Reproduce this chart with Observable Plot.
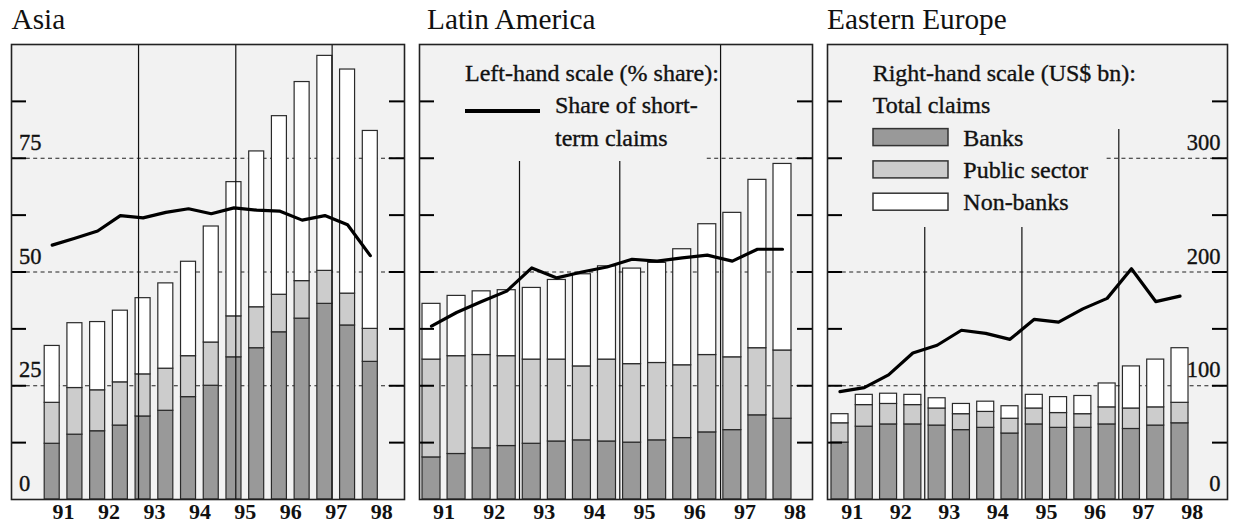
<!DOCTYPE html>
<html><head><meta charset="utf-8">
<script src="https://cdn.jsdelivr.net/npm/d3@7"></script>
<script src="https://cdn.jsdelivr.net/npm/@observablehq/plot@0.6"></script>
<style>
body{margin:0;background:#fff;}
#wrap{position:relative;width:1234px;height:529px;overflow:hidden;font-family:"Liberation Serif",serif;}
#wrap svg{position:absolute;top:0;}
</style></head><body><div id="wrap"></div>
<script>
// ---------- data ----------
const halfYears = [91, 91.5, 92, 92.5, 93, 93.5, 94, 94.5, 95, 95.5, 96, 96.5, 97, 97.5, 98];
const yearLabels = ["91", "92", "93", "94", "95", "96", "97", "98"];
const sectors = ["Banks", "Public sector", "Non-banks"];
const sectorColors = ["#999999", "#cccccc", "#ffffff"];

// US$ bn (right-hand scale)
const asiaBanks  = [49, 57, 60, 65, 73, 78, 90, 100, 125, 133, 147, 159, 172, 153, 121];
const asiaPublic = [36, 41, 36, 38, 37, 37, 36, 38, 36, 36, 33, 33, 29, 28, 29];
const asiaNon    = [50, 57, 60, 63, 67, 75, 83, 102, 118, 137, 157, 175, 189, 197, 174];
// % share of short-term claims (left-hand scale)
const asiaShare  = [55.9, 57.4, 59.0, 62.4, 61.9, 63.1, 63.9, 62.8, 64.1, 63.6, 63.4, 61.4, 62.4, 60.4, 53.6];

const latBanks  = [37, 40, 45, 47, 49, 51, 52, 51, 50, 52, 54, 59, 61, 74, 71];
const latPublic = [86, 86, 82, 79, 74, 72, 65, 72, 69, 68, 64, 68, 64, 59, 60];
const latNon    = [49, 53, 56, 58, 63, 70, 81, 82, 84, 88, 102, 115, 127, 148, 164];
const latShare  = [38.1, 41.1, 43.5, 45.8, 50.9, 48.7, 50.0, 51.1, 52.8, 52.4, 53.1, 53.7, 52.4, 55.0, 55.0];

const eeBanks  = [50, 64, 66, 66, 65, 61, 63, 58, 66, 63, 63, 66, 62, 65, 67];
const eePublic = [17, 19, 18, 17, 15, 14, 14, 13, 14, 13, 12, 15, 18, 16, 18];
const eeNon    = [8, 9, 9, 9, 9, 9, 9, 11, 12, 14, 16, 21, 37, 42, 48];
const eeShare  = [23.7, 24.6, 27.4, 32.2, 33.9, 37.2, 36.5, 35.2, 39.6, 39.0, 41.9, 44.2, 50.7, 43.5, 44.7];

const bnPerPct = 4;                      // right-hand scale: 0–400 bn over 0–100 %
const tickValues = [12.5, 25, 37.5, 50, 62.5, 75, 87.5];
const leftLabels = [0, 25, 50, 75];      // % share
const rightLabels = [0, 100, 200, 300];  // US$ bn

// vertical separator rules (x position, top in %)
const asiaSeps = [{t: 92.9, top: 100}, {t: 95.04, top: 100}, {t: 97.16, top: 100}];
const latSeps  = [{t: 92.755, top: 74.3}, {t: 94.755, top: 74.3}, {t: 96.765, top: 100}];
const eeSeps   = [{t: 92.745, top: 59.8}, {t: 94.745, top: 59.8}, {t: 96.74, top: 81.3}];

// ---------- drawing ----------
const wrap = document.getElementById("wrap");
const H = 529, MT = 44, MB = 30;

function panel(o) {
  const rows = [];
  halfYears.forEach((t, i) => {
    let acc = 0;
    [o.banks[i], o.pub[i], o.non[i]].forEach((v, k) => {
      rows.push({t, sector: sectors[k], y1: acc / bnPerPct, y2: (acc + v) / bnPerPct});
      acc += v;
    });
  });
  const line = halfYears.map((t, i) => ({t, v: o.share[i]}));
  const fw = o.width - o.marginLeft - o.marginRight;
  const pxPerYear = (fw - o.insetLeft - o.insetRight) / 7;
  const rightT = 98 + o.insetRight / pxPerYear;   // x value at right edge of frame
  const marks = [
    Plot.frame({fill: "#f2f2f2"}),
    Plot.ruleY(o.gridFull, {y: d => d, stroke: "#222", strokeWidth: 1, strokeDasharray: "4,3.4"}),
    Plot.ruleY(o.gridPartial, {y: "v", x1: "from", x2: () => rightT, stroke: "#222", strokeWidth: 1, strokeDasharray: "4,3.4"}),
    Plot.rect(rows, {x1: d => d.t - 0.25, x2: d => d.t + 0.25, y1: "y1", y2: "y2", fill: "sector",
      stroke: "#2a2a2a", strokeWidth: 1.2, insetLeft: o.barInset, insetRight: o.barInset}),
    Plot.ruleX(o.seps, {x: "t", y1: 0, y2: "top", stroke: "#111", strokeWidth: 1.2}),
    Plot.line(line, {x: "t", y: "v", stroke: "#000", strokeWidth: 3.2, strokeLinejoin: "round"}),
    Plot.tickY(tickValues, {y: d => d, insetRight: fw - 15, stroke: "#000", strokeWidth: 2}),
    Plot.tickY(tickValues, {y: d => d, insetLeft: fw - 15, stroke: "#000", strokeWidth: 2}),
    Plot.frame({stroke: "#222", strokeWidth: 1.6}),
    Plot.text(yearLabels, {x: d => +d + 0.25, text: d => d, frameAnchor: "bottom", lineAnchor: "bottom",
      dy: 19, fontSize: 22, fontWeight: "bold", fill: "#111"})
  ];
  if (o.left) marks.push(Plot.text(leftLabels, {y: d => d, text: d => String(d), frameAnchor: "left",
    textAnchor: "start", lineAnchor: "bottom", dx: 7.5, dy: -8.5, fontSize: 22.5, fill: "#111",
    stroke: "#111", strokeWidth: 0.35}));
  if (o.right) marks.push(Plot.text(rightLabels, {y: d => d / bnPerPct, text: d => String(d), frameAnchor: "right",
    textAnchor: "end", lineAnchor: "bottom", dx: -7, dy: -8.5, fontSize: 22.5, fill: "#111",
    stroke: "#111", strokeWidth: 0.35}));
  const svg = Plot.plot({
    width: o.width, height: H,
    marginTop: MT, marginBottom: MB, marginLeft: o.marginLeft, marginRight: o.marginRight,
    x: {domain: [91, 98], insetLeft: o.insetLeft, insetRight: o.insetRight, axis: null},
    y: {domain: [0, 100], axis: null},
    color: {domain: sectors, range: sectorColors},
    style: {background: "transparent", fontFamily: "Liberation Serif", overflow: "visible"},
    marks
  });
  svg.style.left = o.offset + "px";
  wrap.appendChild(svg);
}

panel({banks: asiaBanks, pub: asiaPublic, non: asiaNon, share: asiaShare, seps: asiaSeps,
  gridFull: [25, 50, 75], gridPartial: [], offset: 0, width: 410, marginLeft: 11, marginRight: 6,
  insetLeft: 40.7, insetRight: 34.2, barInset: 3.86, left: true});
panel({banks: latBanks, pub: latPublic, non: latNon, share: latShare, seps: latSeps,
  gridFull: [25, 50], gridPartial: [{v: 75, from: 96.5}], offset: 410, width: 410, marginLeft: 9, marginRight: 8,
  insetLeft: 12, insetRight: 30, barInset: 3.54});
panel({banks: eeBanks, pub: eePublic, non: eeNon, share: eeShare, seps: eeSeps,
  gridFull: [25, 50], gridPartial: [{v: 75, from: 96.5}], offset: 820, width: 414, marginLeft: 7, marginRight: 7,
  insetLeft: 12.5, insetRight: 47.5, barInset: 3.64, right: true});

// ---------- titles & legends ----------
const ov = d3.select(wrap).append("svg").attr("width", 1234).attr("height", H)
  .style("left", "0px").style("pointer-events", "none")
  .attr("font-family", "Liberation Serif, serif").attr("fill", "#111");
[["Asia", 11.5], ["Latin America", 427], ["Eastern Europe", 827]].forEach(([t, x]) =>
  ov.append("text").attr("x", x).attr("y", 29.3).attr("font-size", 29.3).text(t));

const lg = ov.append("g").attr("font-size", 24).attr("stroke", "#111").attr("stroke-width", 0.35);
lg.append("text").attr("x", 465).attr("y", 81).text("Left-hand scale (% share):");
lg.append("rect").attr("x", 465).attr("y", 109).attr("width", 75).attr("height", 4).attr("fill", "#000").attr("stroke", "none");
lg.append("text").attr("x", 555).attr("y", 113.3).text("Share of short-");
lg.append("text").attr("x", 555).attr("y", 145.6).text("term claims");

lg.append("text").attr("x", 872.7).attr("y", 81).text("Right-hand scale (US$ bn):");
lg.append("text").attr("x", 872.7).attr("y", 113.3).text("Total claims");
sectors.forEach((s, k) => {
  const base = 145.6 + 32.3 * k;
  lg.append("rect").attr("x", 873).attr("y", base - 17).attr("width", 75).attr("height", 17)
    .attr("fill", sectorColors[k]).attr("stroke", "#333").attr("stroke-width", 1.5);
  lg.append("text").attr("x", 963.3).attr("y", base).text(s);
});
</script></body></html>
